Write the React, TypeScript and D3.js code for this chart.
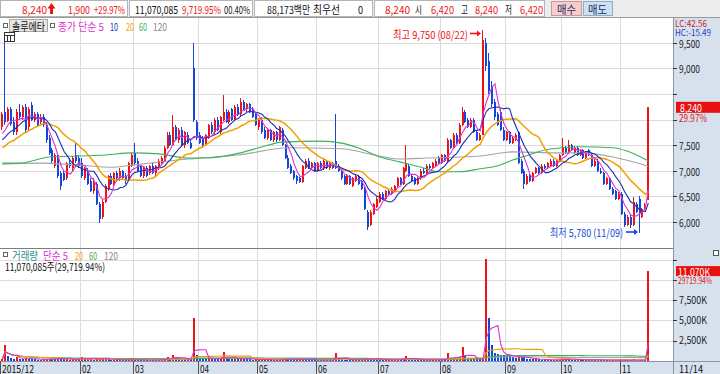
import * as d3 from "d3";

// 일봉 [시가, 고가, 저가, 종가]
const dec15 = [
  [7850, 8150, 7800, 8100], [8150, 9550, 7900, 7950], [7980, 8250, 7950, 8200], [8200, 8250, 7880, 7920],
  [7950, 8050, 7700, 7750], [7750, 8200, 7700, 8150], [8150, 8300, 8000, 8050],
];
const jan16 = [
  [8050, 8280, 8000, 8250], [8250, 8300, 7750, 7800], [7850, 8250, 7800, 8200], [8280, 8340, 7980, 8000],
  [8000, 8150, 7950, 8100], [8100, 8150, 7850, 7900], [7950, 8100, 7900, 8050], [8050, 8100, 7850, 7900],
  [7900, 7950, 7550, 7600], [7650, 7700, 7300, 7350], [7400, 7450, 7150, 7200], [7100, 7350, 7050, 7300],
  [7300, 7350, 6850, 6900], [6950, 7000, 6620, 6700], [6950, 7000, 6800, 6820], [6850, 7180, 6820, 7150],
  [7150, 7250, 7050, 7100], [7050, 7280, 7000, 7250], [7300, 7540, 7150, 7200], [7250, 7300, 7050, 7100],
];
const feb16 = [
  [7150, 7250, 6850, 6900], [6850, 7080, 6820, 7050], [7000, 7050, 6720, 6750], [6800, 6850, 6580, 6600],
  [6600, 6850, 6550, 6800], [6750, 6780, 6330, 6350], [6350, 6400, 5980, 6050], [6100, 6420, 6050, 6400],
  [6400, 6750, 6380, 6700], [6650, 6920, 6600, 6900], [6900, 6950, 6720, 6750], [6750, 6980, 6700, 6950],
  [6950, 7000, 6820, 6850], [6850, 7050, 6800, 7000], [7000, 7020, 6820, 6850], [6900, 6950, 6750, 6800],
  [6850, 7180, 6820, 7150], [7100, 7350, 7080, 7300],
];
const mar16 = [
  [7350, 7550, 7120, 7150], [7200, 7250, 6980, 7000], [7100, 7120, 6880, 6900], [6900, 7080, 6850, 7050],
  [7050, 7100, 6880, 6900], [6950, 7120, 6920, 7100], [7100, 7150, 6930, 6950], [6950, 7120, 6900, 7100],
  [7050, 7230, 7020, 7200], [7150, 7280, 7120, 7250], [7200, 7480, 7180, 7450], [7450, 7750, 7420, 7700],
  [7700, 7750, 7480, 7500], [7500, 8090, 7480, 7850], [7850, 7900, 7580, 7600], [7600, 7830, 7550, 7800],
  [7800, 7850, 7480, 7500], [7500, 7780, 7450, 7750], [7700, 7750, 7530, 7550], [7550, 7620, 7420, 7450],
  [9000, 9500, 7950, 8000], [7950, 8000, 7600, 7650],
];
const apr16 = [
  [7700, 7750, 7520, 7550], [7650, 7680, 7450, 7500], [7500, 7720, 7480, 7700], [7650, 7920, 7620, 7900],
  [7900, 7950, 7720, 7750], [7750, 8030, 7720, 8000], [8000, 8050, 7780, 7800], [7750, 8080, 7720, 8050],
  [8000, 8480, 7980, 8150], [8150, 8200, 7930, 7950], [7950, 8180, 7920, 8150], [8200, 8230, 7980, 8000],
  [8000, 8280, 7980, 8250], [8250, 8300, 8080, 8100], [8100, 8420, 8080, 8350], [8350, 8380, 8180, 8200],
  [8200, 8330, 8150, 8300], [8300, 8320, 8130, 8150], [8200, 8250, 8030, 8050], [8100, 8120, 7880, 7900],
];
const may16 = [
  [7850, 8030, 7800, 8000], [8000, 8050, 7720, 7750], [7800, 7850, 7620, 7650], [7650, 7830, 7600, 7800],
  [7800, 7820, 7580, 7600], [7600, 7780, 7570, 7750], [7750, 7780, 7570, 7600], [7600, 7880, 7580, 7850],
  [7800, 7830, 7480, 7500], [7500, 7530, 7230, 7250], [7250, 7300, 7030, 7050], [7100, 7130, 6930, 6950],
  [7000, 7020, 6830, 6850], [6900, 6920, 6750, 6800], [6850, 6880, 6760, 6780], [6780, 7120, 6760, 7100],
  [7050, 7230, 7030, 7200], [7200, 7250, 7030, 7050], [7050, 7180, 7020, 7150], [7150, 7180, 6980, 7000],
];
const jun16 = [
  [7000, 7180, 6980, 7150], [7150, 7200, 7030, 7050], [7050, 7230, 7020, 7200], [7200, 7220, 7030, 7050],
  [7050, 7180, 7020, 7150], [7150, 7180, 7030, 7050], [7200, 8110, 7030, 7050], [7100, 7130, 6980, 7000],
  [7000, 7020, 6830, 6850], [6900, 6920, 6730, 6750], [6750, 6930, 6720, 6900], [6900, 6920, 6730, 6750],
  [6700, 6880, 6680, 6850], [6800, 6930, 6780, 6900], [6900, 6920, 6730, 6750], [6800, 6820, 6630, 6650],
  [6650, 6680, 6230, 6250], [6200, 6230, 5850, 5900], [5950, 6230, 5920, 6200], [6150, 6380, 6130, 6350],
  [6300, 6480, 6280, 6450],
];
const jul16 = [
  [6400, 6580, 6380, 6550], [6550, 6580, 6430, 6450], [6450, 6630, 6430, 6600], [6600, 6650, 6520, 6550],
  [6550, 6680, 6530, 6650], [6600, 6730, 6580, 6700], [6700, 6880, 6680, 6850], [6850, 6880, 6730, 6750],
  [6750, 7080, 6730, 7050], [7000, 7500, 6980, 7150], [7100, 7130, 6880, 6900], [6900, 6930, 6780, 6800],
  [6850, 6870, 6730, 6750], [6750, 6880, 6730, 6850], [6850, 7030, 6830, 7000], [7000, 7050, 6930, 6950],
  [6950, 7130, 6930, 7100], [7100, 7130, 7030, 7050], [7050, 7180, 7030, 7150], [7100, 7230, 7080, 7200],
  [7250, 7280, 7130, 7150],
];
const aug16 = [
  [7150, 7330, 7130, 7300], [7300, 7330, 7180, 7200], [7200, 7650, 7180, 7600], [7600, 7630, 7430, 7450],
  [7450, 7730, 7430, 7700], [7700, 7730, 7530, 7550], [7550, 7930, 7530, 7900], [7900, 8250, 7880, 8150],
  [8150, 8180, 7930, 7950], [8000, 8030, 7830, 7850], [7850, 8030, 7830, 8000], [8000, 8030, 7730, 7750],
  [7750, 7780, 7580, 7600], [7600, 7730, 7580, 7700], [7700, 9750, 7700, 9550], [9500, 9600, 8950, 9050],
  [9150, 9300, 8500, 8550], [8650, 8750, 8250, 8300], [8350, 8400, 8000, 8050], [8100, 8150, 7880, 7900],
  [8150, 8200, 7780, 7800], [7800, 7850, 7580, 7600],
];
const sep16 = [
  [7600, 7780, 7580, 7750], [7750, 7780, 7530, 7550], [7550, 7680, 7530, 7650], [7600, 7730, 7580, 7700],
  [7750, 7780, 7130, 7150], [7200, 7230, 6930, 6950], [7000, 7030, 6650, 6750], [6750, 6930, 6730, 6900],
  [6900, 6930, 6780, 6800], [6800, 6980, 6780, 6950], [6950, 7080, 6930, 7050], [7050, 7080, 6930, 6950],
  [6950, 7130, 6930, 7100], [7100, 7130, 7030, 7050], [7050, 7180, 7030, 7150], [7100, 7230, 7080, 7200],
  [7200, 7230, 7080, 7100], [7100, 7230, 7080, 7200], [7200, 7330, 7180, 7300],
];
const oct16 = [
  [7300, 7650, 7280, 7450], [7450, 7480, 7330, 7350], [7350, 7600, 7330, 7500], [7500, 7530, 7380, 7400],
  [7350, 7480, 7330, 7450], [7450, 7480, 7280, 7300], [7300, 7430, 7280, 7400], [7400, 7430, 7230, 7250],
  [7250, 7380, 7230, 7350], [7400, 7430, 7280, 7300], [7300, 7330, 7080, 7100], [7100, 7230, 7080, 7200],
  [7200, 7230, 6980, 7000], [7000, 7050, 6930, 6950], [6950, 6980, 6730, 6750], [6750, 6880, 6730, 6850],
  [6850, 6870, 6630, 6650], [6650, 6680, 6530, 6550], [6600, 6630, 6430, 6450], [6450, 6580, 6430, 6550],
];
const nov16 = [
  [6550, 6580, 6130, 6150], [6150, 6200, 5900, 5950], [5950, 6130, 5930, 6100], [6100, 6130, 5880, 5950],
  [5950, 6480, 5930, 6400], [6350, 6400, 6180, 6200], [6450, 6500, 5780, 6150], [6100, 6280, 6080, 6250],
  [6250, 6380, 6230, 6340], [6420, 8240, 6420, 8240],
];

// 거래량 (천주)
const volDec15 = [250, 2000, 600, 350, 300, 450, 300];
const volJan16 = [280, 350, 300, 250, 200, 180, 160, 200, 220, 300, 260, 240, 350, 300, 200, 250, 180, 220, 260, 200];
const volFeb16 = [500, 200, 220, 250, 180, 300, 350, 260, 280, 200, 150, 180, 140, 160, 130, 120, 150, 200];
const volMar16 = [180, 150, 120, 130, 110, 140, 120, 130, 160, 200, 250, 450, 300, 740, 350, 280, 300, 250, 260, 200, 5300, 700];
const volApr16 = [400, 300, 250, 350, 300, 280, 250, 300, 1100, 400, 300, 250, 300, 250, 350, 260, 220, 200, 180, 200];
const volMay16 = [180, 200, 150, 160, 140, 150, 130, 180, 200, 250, 220, 200, 180, 150, 160, 300, 200, 150, 140, 130];
const volJun16 = [120, 110, 130, 100, 110, 100, 1000, 300, 200, 180, 150, 140, 150, 160, 130, 150, 200, 400, 300, 250, 200];
const volJul16 = [180, 150, 160, 130, 140, 150, 200, 160, 350, 600, 250, 180, 150, 140, 160, 130, 150, 140, 160, 180, 150];
const volAug16 = [200, 150, 1000, 300, 350, 250, 500, 1700, 600, 400, 300, 350, 250, 200, 250, 12600, 5300, 2000, 1000, 900, 800, 750];
const volSep16 = [700, 600, 500, 400, 600, 500, 450, 300, 250, 200, 250, 200, 180, 150, 160, 140, 150, 130, 120];
const volOct16 = [300, 200, 250, 180, 150, 160, 140, 130, 150, 140, 180, 130, 160, 120, 140, 110, 130, 100, 120, 90];
const volNov16 = [110, 130, 90, 100, 200, 120, 150, 80, 37, 11070];

const monthLabels = ["2015/12", "", "02", "03", "04", "05", "06", "07", "08", "09", "10", "11"];
const monthCandles = [dec15, jan16, feb16, mar16, apr16, may16, jun16, jul16, aug16, sep16, oct16, nov16];
const monthVolumes = [volDec15, volJan16, volFeb16, volMar16, volApr16, volMay16, volJun16, volJul16, volAug16, volSep16, volOct16, volNov16];

// 화면 이전 종가 (이동평균 계산용)
const priorCloses = [7200, 7150, 7250, 7300, 7200, 7350, 7300, 7400, 7380, 7450, 7420, 7500, 7430, 7550, 7500, 7600, 7650, 7580, 7700];

// 60일 / 120일 이동평균
const ma60Points = [
  [0, 7150], [6, 7150], [16, 7270], [26, 7290], [35, 7310], [44, 7350], [53, 7330], [63, 7250], [69, 7250],
  [80, 7340], [87, 7450], [95, 7560], [108, 7580], [115, 7540], [121, 7440], [128, 7270], [135, 7170],
  [142, 7070], [148, 6980], [155, 6980], [162, 7040], [168, 7100], [173, 7210], [178, 7300], [185, 7420],
  [196, 7470], [207, 7450], [212, 7380], [219, 7190],
];
const ma120Points = [
  [0, 7130], [13, 7150], [26, 7110], [37, 7070], [44, 7110], [53, 7170], [63, 7230], [72, 7270], [80, 7310],
  [97, 7450], [115, 7430], [126, 7310], [135, 7230], [144, 7250], [162, 7290], [173, 7370], [189, 7350],
  [196, 7350], [207, 7270], [219, 7090],
];

const priceTicks = [9500, 9000, 8500, 8000, 7500, 7000, 6500, 6000];
const volumeTicks = [12500, 10000, 7500, 5000, 2500];

const FONT = "'Noto Sans CJK KR', 'Noto Sans', sans-serif";
const UP = "#ee1414";
const DOWN = "#1446dc";
const MA_COLORS = { m5: "#dc34cf", m10: "#1a2fb0", m20: "#f0a000", m60: "#3cb05a", m120: "#a4a4a4" };

const plotRight = 673;
const priceTop = 18;
const priceBottom = 248;
const volTop = 249;
const volBottom = 361;

function movingAverage(values: number[], n: number, prior: number[] = []) {
  const all = [...prior, ...values];
  return values.map((_, i) => {
    const end = i + prior.length;
    return d3.mean(all.slice(Math.max(0, end - n + 1), end + 1)) as number;
  });
}

type TxtProps = {
  x: number;
  y: number;
  w?: number;
  fill?: string;
  size?: number;
  anchor?: "start" | "middle" | "end";
  children: string;
};

function Txt({ x, y, w, fill = "#111", size = 11, anchor = "start", children }: TxtProps) {
  return (
    <text
      x={x}
      y={y}
      fill={fill}
      fontSize={size}
      fontFamily={FONT}
      textAnchor={anchor}
      dominantBaseline="central"
      textLength={w}
      lengthAdjust={w ? "spacingAndGlyphs" : undefined}
    >
      {children}
    </text>
  );
}

function Arrow({ x1, x2, y, color }: { x1: number; x2: number; y: number; color: string }) {
  return (
    <g>
      <line x1={x1} x2={x2 - 3} y1={y} y2={y} stroke={color} strokeWidth={1.6} />
      <path d={`M${x2},${y} L${x2 - 4},${y - 3} L${x2 - 4},${y + 3} Z`} fill={color} />
    </g>
  );
}

export default function App() {
  const candles = monthCandles.flat().map(([o, h, l, c], i) => ({ i, o, h, l, c }));
  const volumes = monthVolumes.flat();
  const n = candles.length;
  const closes = candles.map((d) => d.c);

  const monthStarts: number[] = [];
  monthCandles.reduce((acc, m) => {
    monthStarts.push(acc);
    return acc + m.length;
  }, 0);

  const x = d3
    .scaleBand<number>()
    .domain(d3.range(n))
    .range([0.83, 0.83 + n * 2.95]);
  const cx = (i: number) => (x(i) as number) + x.bandwidth() / 2;

  const y = d3.scaleLinear().domain([6000, 9500]).range([222, 42.8]);
  const yv = d3.scaleLinear().domain([0, 12500]).range([volBottom, 259.5]);

  const ma = (vals: number[]) =>
    d3
      .line<number>()
      .x((_, i) => cx(i))
      .y((v) => y(v))(vals) as string;
  const ma5 = ma(movingAverage(closes, 5, priorCloses));
  const ma10 = ma(movingAverage(closes, 10, priorCloses));
  const ma20 = ma(movingAverage(closes, 20, priorCloses));
  const smooth = d3
    .line<number[]>()
    .x((d) => cx(d[0]))
    .y((d) => y(d[1]))
    .curve(d3.curveMonotoneX);
  const ma60 = smooth(ma60Points) as string;
  const ma120 = smooth(ma120Points) as string;

  const vline = (k: number) =>
    d3
      .line<number>()
      .x((_, i) => cx(i))
      .y((v) => yv(v))(movingAverage(volumes, k)) as string;

  const gridXs = monthStarts
    .map((s, k) => ({ k, gx: Math.floor(cx(s) - 1.5) + 0.5 }))
    .filter((d) => monthLabels[d.k] !== "" && d.k > 0);

  const hi = candles[163];
  const lo = candles[216];
  const last = candles[n - 1];
  const lastVol = volumes[n - 1];

  return (
    <svg
      width={720}
      height={374}
      style={{ position: "absolute", left: 0, top: 0, background: "#fff" }}
      fontFamily={FONT}
    >
      <defs>
        <clipPath id="pclip">
          <rect x={0} y={priceTop} width={plotRight} height={priceBottom - priceTop} />
        </clipPath>
        <clipPath id="vclip">
          <rect x={0} y={volTop} width={plotRight} height={volBottom - volTop} />
        </clipPath>
      </defs>

      {/* header */}
      <rect x={0} y={0} width={720} height={18} fill="#ededed" />
      <rect x={0.5} y={0.5} width={127} height={16} fill="#fff" stroke="#b4b4b4" />
      <rect x={129.5} y={0.5} width={123} height={16} fill="#fff" stroke="#b4b4b4" />
      <rect x={254.5} y={0.5} width={118} height={16} fill="#fff" stroke="#b4b4b4" />
      <rect x={374.5} y={0.5} width={170} height={16} fill="#fff" stroke="#b4b4b4" />
      <rect x={551.5} y={1.5} width={30} height={14} fill="#f6cccc" stroke="#c49a9a" />
      <rect x={583.5} y={1.5} width={29} height={14} fill="#cde0f4" stroke="#93aac6" />
      <Txt x={22} y={9} w={25} fill={UP}>8,240</Txt>
      <path d="M51.5,3 L47.5,8.5 L50,8.5 L50,14 L53,14 L53,8.5 L55.5,8.5 Z" fill={UP} />
      <Txt x={68} y={9} w={22} fill={UP}>1,900</Txt>
      <Txt x={94} y={9} w={31} fill={UP}>+29.97%</Txt>
      <Txt x={135} y={9} w={43}>11,070,085</Txt>
      <Txt x={182} y={9} w={39} fill={UP}>9,719.95%</Txt>
      <Txt x={224} y={9} w={26}>00.40%</Txt>
      <Txt x={267} y={9} w={43}>88,173백만</Txt>
      <Txt x={313} y={9} w={27}>최우선</Txt>
      <Txt x={358} y={9} w={5}>0</Txt>
      <Txt x={385} y={9} w={25} fill={UP}>8,240</Txt>
      <Txt x={415} y={9} w={7}>시</Txt>
      <Txt x={431} y={9} w={23} fill={UP}>6,420</Txt>
      <Txt x={461} y={9} w={7}>고</Txt>
      <Txt x={475} y={9} w={23} fill={UP}>8,240</Txt>
      <Txt x={505} y={9} w={7}>저</Txt>
      <Txt x={520} y={9} w={23} fill={UP}>6,420</Txt>
      <Txt x={557} y={9} w={19} fill="#1a2a60">매수</Txt>
      <Txt x={588} y={9} w={19} fill="#1a2a60">매도</Txt>
      <line x1={0} x2={720} y1={17.5} y2={17.5} stroke="#9a9a9a" />

      {/* right axis & date axis background */}
      <rect x={plotRight} y={18} width={720 - plotRight} height={356} fill="#d7e1ee" />
      <rect x={0} y={volBottom} width={720} height={374 - volBottom} fill="#d7e1ee" />
      <line x1={plotRight + 0.5} x2={plotRight + 0.5} y1={18} y2={374} stroke="#8a96a6" />
      <line x1={0} x2={720} y1={volBottom + 0.5} y2={volBottom + 0.5} stroke="#8a96a6" />

      {/* grid */}
      <g stroke="#dcdcdc" shapeRendering="crispEdges">
        {priceTicks.map((t) => (
          <line key={`pg${t}`} x1={0} x2={plotRight} y1={Math.round(y(t)) + 0.5} y2={Math.round(y(t)) + 0.5} />
        ))}
        {volumeTicks.map((t) => (
          <line key={`vg${t}`} x1={0} x2={plotRight} y1={Math.round(yv(t)) + 0.5} y2={Math.round(yv(t)) + 0.5} />
        ))}
        {gridXs.map((d) => (
          <line key={`gx${d.k}`} x1={d.gx} x2={d.gx} y1={priceTop} y2={volBottom} />
        ))}
      </g>
      <line x1={0} x2={plotRight} y1={priceBottom + 0.5} y2={priceBottom + 0.5} stroke="#7c7c7c" />

      {/* candles */}
      <g clipPath="url(#pclip)" shapeRendering="crispEdges">
        {candles.map((d) => {
          const px = Math.round(cx(d.i));
          const col = d.c >= d.o ? UP : DOWN;
          const top = Math.round(y(Math.max(d.o, d.c)));
          const bot = Math.round(y(Math.min(d.o, d.c)));
          return (
            <g key={`c${d.i}`}>
              <line x1={px - 0.5} x2={px - 0.5} y1={y(d.h)} y2={y(d.l)} stroke={col} />
              <rect x={px - 1} y={top} width={2} height={Math.max(1, bot - top)} fill={col} />
            </g>
          );
        })}
      </g>

      {/* moving averages */}
      <g clipPath="url(#pclip)" fill="none" strokeWidth={1.1}>
        <path d={ma120} stroke={MA_COLORS.m120} />
        <path d={ma60} stroke={MA_COLORS.m60} />
        <path d={ma20} stroke={MA_COLORS.m20} strokeWidth={1.5} />
        <path d={ma10} stroke={MA_COLORS.m10} />
        <path d={ma5} stroke={MA_COLORS.m5} />
      </g>

      {/* volume */}
      <g clipPath="url(#vclip)" shapeRendering="crispEdges">
        {volumes.map((v, i) => {
          const px = Math.round(cx(i));
          const col = i === 0 || v >= volumes[i - 1] ? UP : DOWN;
          const top = Math.min(volBottom - 1, Math.round(yv(v)));
          return <rect key={`v${i}`} x={px - 1} y={top} width={2} height={volBottom - top} fill={col} />;
        })}
      </g>
      <g clipPath="url(#vclip)" fill="none" strokeWidth={1.1}>
        <path d={vline(120)} stroke={MA_COLORS.m120} />
        <path d={vline(60)} stroke={MA_COLORS.m60} />
        <path d={vline(20)} stroke={MA_COLORS.m20} />
        <path d={vline(5)} stroke={MA_COLORS.m5} />
      </g>

      {/* legends */}
      <rect x={3.5} y={23.5} width={4} height={4} fill="#fff" stroke="#666" />
      <rect x={9.5} y={19.5} width={38} height={12} fill="#e6e6e6" stroke="#a8a8a8" />
      <Txt x={12} y={25.5} w={33}>솔루에타</Txt>
      <rect x={50.5} y={23.5} width={4} height={4} fill="#fff" stroke="#666" />
      <Txt x={58} y={25.5} w={46} fill={MA_COLORS.m5}>종가 단순 5</Txt>
      <Txt x={110} y={25.5} w={8} fill={MA_COLORS.m10}>10</Txt>
      <Txt x={126} y={25.5} w={8} fill={MA_COLORS.m20}>20</Txt>
      <Txt x={139} y={25.5} w={8} fill={MA_COLORS.m60}>60</Txt>
      <Txt x={153} y={25.5} w={14} fill="#888">120</Txt>
      <g>
        <rect x={4.5} y={32.5} width={10} height={9} fill="#fff" stroke="#333" />
        <line x1={4.5} x2={14.5} y1={35.5} y2={35.5} stroke="#333" />
        <line x1={7.5} x2={7.5} y1={35.5} y2={41.5} stroke="#333" />
        <line x1={10.5} x2={10.5} y1={35.5} y2={41.5} stroke="#333" />
      </g>

      <rect x={3.5} y={252.5} width={4} height={4} fill="#fff" stroke="#666" />
      <Txt x={12} y={255} w={26} fill="#2b8c8c">거래량</Txt>
      <Txt x={43} y={255} w={25} fill={MA_COLORS.m5}>단순 5</Txt>
      <Txt x={75} y={255} w={8} fill={MA_COLORS.m20}>20</Txt>
      <Txt x={89} y={255} w={8} fill={MA_COLORS.m60}>60</Txt>
      <Txt x={104} y={255} w={14} fill="#888">120</Txt>
      <Txt x={5} y={266} w={100}>11,070,085주(29,719.94%)</Txt>

      {/* high / low markers */}
      <Txt x={393} y={33.5} w={75} fill={UP}>최고 9,750 (08/22)</Txt>
      <Arrow x1={470} x2={Math.round(cx(hi.i)) - 2} y={33.5} color={UP} />
      <Txt x={550} y={232} w={73} fill={DOWN}>최저 5,780 (11/09)</Txt>
      <Arrow x1={626} x2={Math.round(cx(lo.i)) - 2} y={232} color={DOWN} />

      {/* price axis */}
      <Txt x={675} y={23} w={32} fill="#d01818" size={9}>LC:42.56</Txt>
      <Txt x={675} y={32} w={36} fill="#1a40c8" size={9}>HC:-15.49</Txt>
      {priceTicks.map((t) => (
        <g key={`pt${t}`}>
          <line x1={plotRight} x2={plotRight + 4} y1={Math.round(y(t)) + 0.5} y2={Math.round(y(t)) + 0.5} stroke="#333" />
          {Math.abs(y(t) - y(last.c)) > 16 && (
            <Txt x={679} y={y(t) + 0.5} w={21} size={10} fill="#222">{d3.format(",")(t)}</Txt>
          )}
        </g>
      ))}
      <rect x={676} y={y(last.c) - 5.5} width={44} height={11} fill="#e81010" />
      <Txt x={680} y={y(last.c)} w={22} size={10.5} fill="#fff">{d3.format(",")(last.c)}</Txt>
      <Txt x={679} y={y(last.c) + 10.5} w={28} size={10} fill="#e01010">29.97%</Txt>

      {/* volume axis */}
      {volumeTicks.map((t) => (
        <g key={`vt${t}`}>
          <line x1={plotRight} x2={plotRight + 4} y1={Math.round(yv(t)) + 0.5} y2={Math.round(yv(t)) + 0.5} stroke="#333" />
          {Math.abs(yv(t) - yv(lastVol)) > 12 && (
            <Txt x={679} y={yv(t) - 1} w={28} size={10} fill="#222">{`${d3.format(",")(t)}K`}</Txt>
          )}
        </g>
      ))}
      <rect x={713.5} y={250.5} width={5} height={5} fill="#fff" stroke="#555" />
      <rect x={676} y={yv(lastVol) - 5} width={44} height={10} fill="#e81010" />
      <Txt x={678} y={yv(lastVol)} w={32} size={10} fill="#fff">11,070K</Txt>
      <Txt x={678} y={yv(lastVol) + 9.5} w={34} size={9} fill="#e01010">29719.94%</Txt>

      {/* date axis */}
      {monthStarts.map((s, k) => {
        if (!monthLabels[k]) return null;
        const gx = k === 0 ? 0.5 : Math.floor(cx(s) - 1.5) + 0.5;
        const lbl = monthLabels[k];
        return (
          <g key={`d${k}`}>
            <line x1={gx} x2={gx} y1={volBottom} y2={374} stroke="#555" />
            <Txt x={gx + 1.5} y={368} w={lbl.length > 2 ? 32 : 9} size={10.5}>{lbl}</Txt>
          </g>
        );
      })}
      <Txt x={679} y={368} w={24} size={10.5}>11/14</Txt>
    </svg>
  );
}
